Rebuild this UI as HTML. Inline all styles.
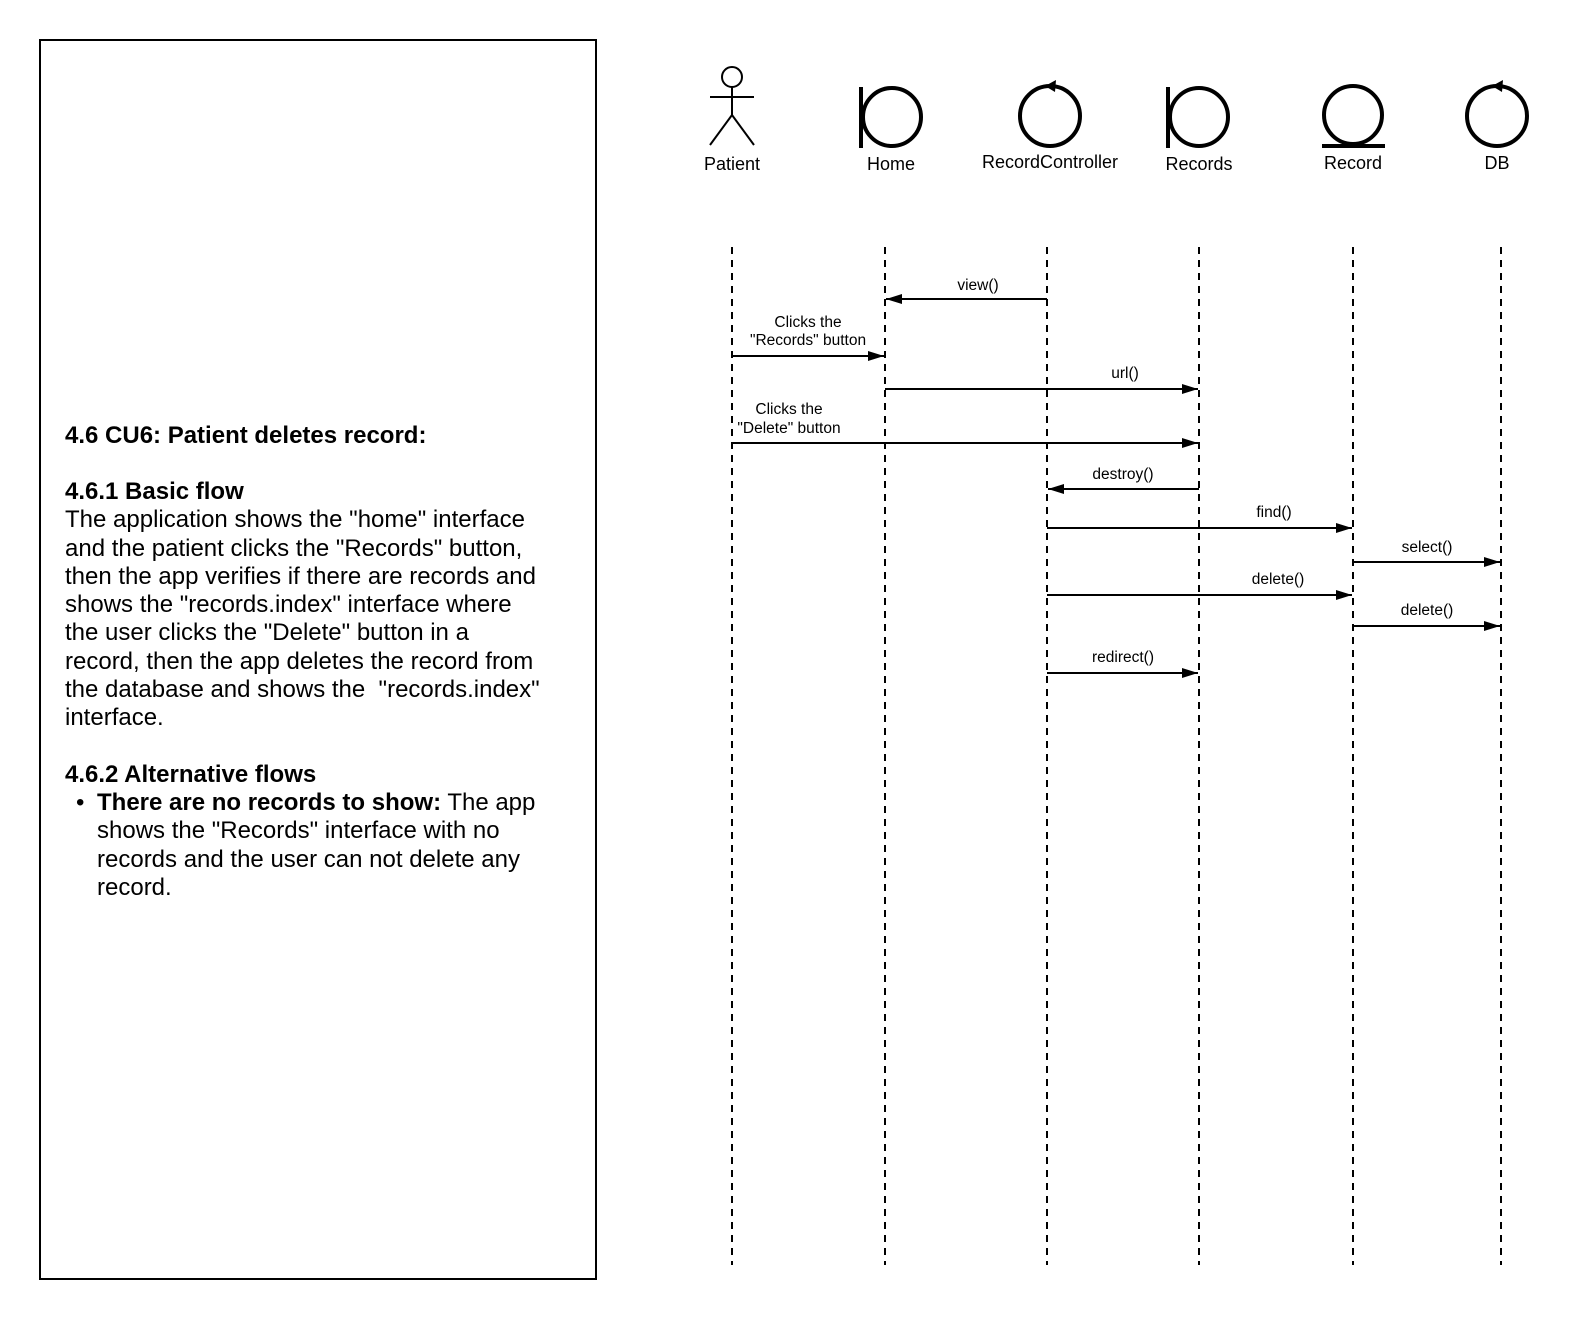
<!DOCTYPE html>
<html><head><meta charset="utf-8"><style>
body{margin:0;background:#fff;}
svg{display:block;font-family:"Liberation Sans",Arial,sans-serif;}
</style></head><body>
<svg width="1578" height="1328" viewBox="0 0 1578 1328">
<defs><marker id="a" markerWidth="16" markerHeight="10" refX="16" refY="5" orient="auto" markerUnits="userSpaceOnUse"><path d="M0,0 L16,5 L0,10 Z" fill="#000"/></marker></defs>
<rect x="40" y="40" width="556" height="1239" fill="none" stroke="#000" stroke-width="2"/>
<g font-size="24" fill="#000">
<text x="65" y="443" font-weight="bold">4.6 CU6: Patient deletes record:</text>
<text x="65" y="499" font-weight="bold">4.6.1 Basic flow</text>
<text x="65" y="527">The application shows the "home" interface</text>
<text x="65" y="556">and the patient clicks the "Records" button,</text>
<text x="65" y="584">then the app verifies if there are records and</text>
<text x="65" y="612">shows the "records.index" interface where</text>
<text x="65" y="640">the user clicks the "Delete" button in a</text>
<text x="65" y="669">record, then the app deletes the record from</text>
<text x="65" y="697" xml:space="preserve">the database and shows the  "records.index"</text>
<text x="65" y="725">interface.</text>
<text x="65" y="782" font-weight="bold">4.6.2 Alternative flows</text>
<text x="76" y="810">•</text>
<text x="97" y="810"><tspan font-weight="bold">There are no records to show:</tspan> The app</text>
<text x="97" y="838">shows the "Records" interface with no</text>
<text x="97" y="867">records and the user can not delete any</text>
<text x="97" y="895">record.</text>
</g>
<g stroke="#000" stroke-width="2" fill="none">
<circle cx="732" cy="77" r="10"/>
<line x1="732" y1="87" x2="732" y2="115"/>
<line x1="710" y1="97" x2="754" y2="97"/>
<line x1="732" y1="115" x2="710" y2="145"/>
<line x1="732" y1="115" x2="754" y2="145"/>
<g stroke-width="4">
<line x1="861" y1="87" x2="861" y2="148"/>
<circle cx="892" cy="117" r="29"/>
<circle cx="1050" cy="116" r="30"/>
<line x1="1168" y1="87" x2="1168" y2="148"/>
<circle cx="1199" cy="117" r="29"/>
<circle cx="1353" cy="115" r="29"/>
<line x1="1322" y1="146" x2="1385" y2="146"/>
<circle cx="1497" cy="116" r="30"/>
</g>
</g>
<path d="M1045,86 L1056,80 L1055,92 Z" fill="#000"/>
<path d="M1492,86 L1503,80 L1502,92 Z" fill="#000"/>
<g font-size="18" text-anchor="middle">
<text x="732" y="170">Patient</text>
<text x="891" y="170">Home</text>
<text x="1050" y="168">RecordController</text>
<text x="1199" y="170">Records</text>
<text x="1353" y="169">Record</text>
<text x="1497" y="169">DB</text>
</g>
<g stroke="#000" stroke-width="2" stroke-dasharray="7,6">
<line x1="732" y1="247" x2="732" y2="1265"/>
<line x1="885" y1="247" x2="885" y2="1265"/>
<line x1="1047" y1="247" x2="1047" y2="1265"/>
<line x1="1199" y1="247" x2="1199" y2="1265"/>
<line x1="1353" y1="247" x2="1353" y2="1265"/>
<line x1="1501" y1="247" x2="1501" y2="1265"/>
</g>
<g stroke="#000" stroke-width="2" marker-end="url(#a)">
<line x1="1047" y1="299" x2="886" y2="299"/>
<line x1="732" y1="356" x2="884" y2="356"/>
<line x1="885" y1="389" x2="1198" y2="389"/>
<line x1="732" y1="443" x2="1198" y2="443"/>
<line x1="1199" y1="489" x2="1048" y2="489"/>
<line x1="1047" y1="528" x2="1352" y2="528"/>
<line x1="1353" y1="562" x2="1500" y2="562"/>
<line x1="1047" y1="595" x2="1352" y2="595"/>
<line x1="1353" y1="626" x2="1500" y2="626"/>
<line x1="1047" y1="673" x2="1198" y2="673"/>
</g>
<g font-size="15.5" text-anchor="middle">
<text x="978" y="290">view()</text>
<text x="808" y="327">Clicks the</text>
<text x="808" y="345">"Records" button</text>
<text x="1125" y="378">url()</text>
<text x="789" y="414">Clicks the</text>
<text x="789" y="433">"Delete" button</text>
<text x="1123" y="479">destroy()</text>
<text x="1274" y="517">find()</text>
<text x="1427" y="552">select()</text>
<text x="1278" y="584">delete()</text>
<text x="1427" y="615">delete()</text>
<text x="1123" y="662">redirect()</text>
</g>
</svg>
</body></html>
